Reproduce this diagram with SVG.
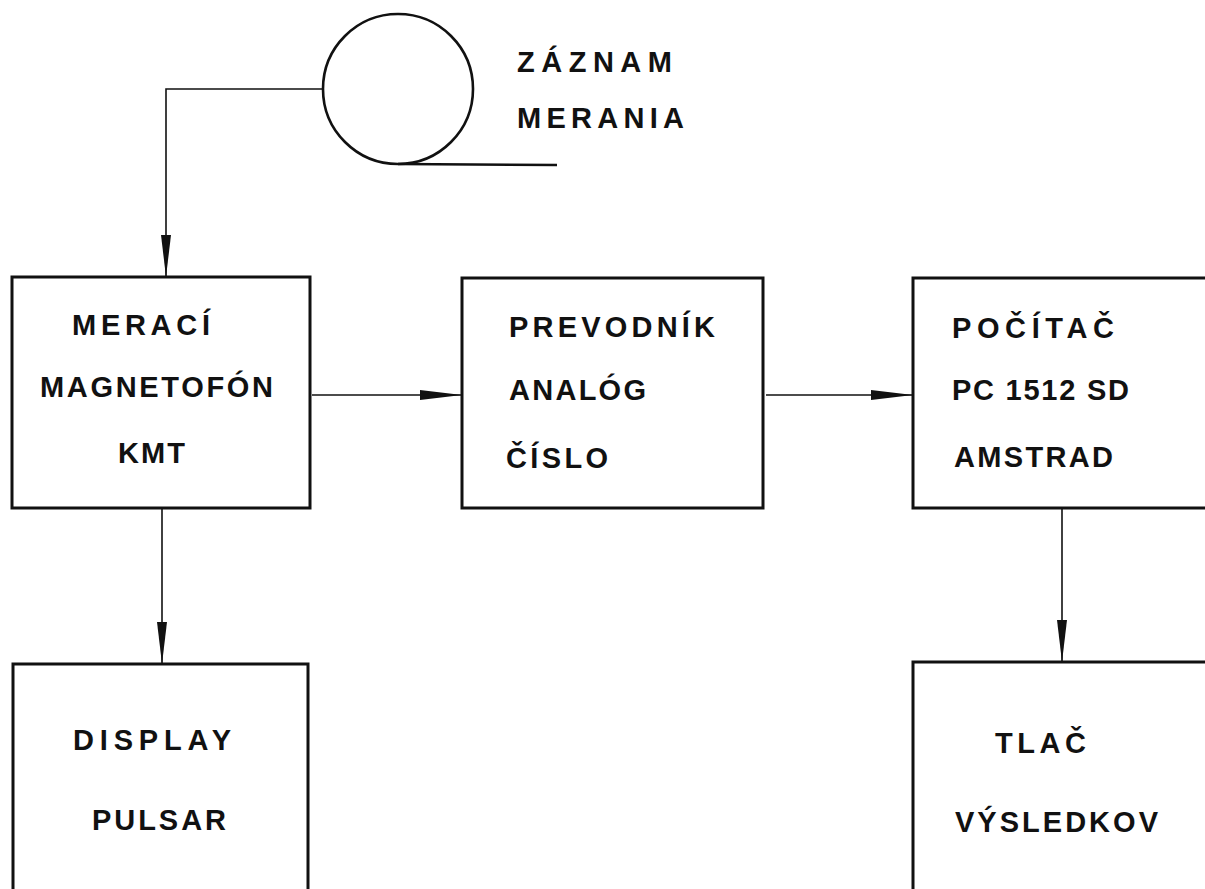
<svg xmlns="http://www.w3.org/2000/svg" width="1205" height="889" viewBox="0 0 1205 889">
<style>
.box{fill:none;stroke:#111;stroke-width:3}
.conn{fill:none;stroke:#111;stroke-width:1.6}
.lbl{font-family:"Liberation Sans","DejaVu Sans",sans-serif;font-weight:bold;font-size:29px;fill:#111}
</style>
<defs>
<marker id="ah" markerUnits="userSpaceOnUse" viewBox="0 0 42 11" refX="42" refY="5.5" markerWidth="42" markerHeight="11" orient="auto">
<path d="M0,0.5 L42,5.5 L0,10.5 Z" fill="#111"/>
</marker>
</defs>
<rect width="1205" height="889" fill="#fff"/>
<g id="record">
<circle cx="398" cy="89" r="75" fill="none" stroke="#111" stroke-width="2.6"/>
<line x1="398" y1="164" x2="557" y2="165" stroke="#111" stroke-width="2.6"/>
<text class="lbl" x="517" y="72" textLength="155" lengthAdjust="spacing">ZÁZNAM</text>
<text class="lbl" x="517" y="128" textLength="167" lengthAdjust="spacing">MERANIA</text>
</g>
<g id="magnetofon">
<rect class="box" x="12" y="277" width="298" height="231"/>
<text class="lbl" x="72" y="335" textLength="138" lengthAdjust="spacing">MERACÍ</text>
<text class="lbl" x="40" y="397" textLength="233" lengthAdjust="spacing">MAGNETOFÓN</text>
<text class="lbl" x="118" y="463" textLength="67" lengthAdjust="spacing">KMT</text>
</g>
<g id="prevodnik">
<rect class="box" x="462" y="278" width="301" height="230"/>
<text class="lbl" x="509" y="337" textLength="206" lengthAdjust="spacing">PREVODNÍK</text>
<text class="lbl" x="509" y="400" textLength="137" lengthAdjust="spacing">ANALÓG</text>
<text class="lbl" x="506" y="468" textLength="102" lengthAdjust="spacing">ČÍSLO</text>
</g>
<g id="pocitac">
<rect class="box" x="913" y="278" width="320" height="230"/>
<text class="lbl" x="952" y="338" textLength="162" lengthAdjust="spacing">POČÍTAČ</text>
<text class="lbl" x="952" y="400" textLength="177" lengthAdjust="spacing">PC 1512 SD</text>
<text class="lbl" x="954" y="467" textLength="159" lengthAdjust="spacing">AMSTRAD</text>
</g>
<g id="display">
<rect class="box" x="13" y="664" width="295" height="240"/>
<text class="lbl" x="73" y="750" textLength="158" lengthAdjust="spacing">DISPLAY</text>
<text class="lbl" x="92" y="830" textLength="134" lengthAdjust="spacing">PULSAR</text>
</g>
<g id="tlac">
<rect class="box" x="913" y="662" width="320" height="240"/>
<text class="lbl" x="995" y="753" textLength="91" lengthAdjust="spacing">TLAČ</text>
<text class="lbl" x="955" y="832" textLength="203" lengthAdjust="spacing">VÝSLEDKOV</text>
</g>
<g id="connectors">
<path class="conn" d="M323,89 H166 V277" marker-end="url(#ah)"/>
<path class="conn" d="M312,395 H462" marker-end="url(#ah)"/>
<path class="conn" d="M766,395 H913" marker-end="url(#ah)"/>
<path class="conn" d="M162,508 V664" marker-end="url(#ah)"/>
<path class="conn" d="M1062,508 V662" marker-end="url(#ah)"/>
</g>
</svg>
